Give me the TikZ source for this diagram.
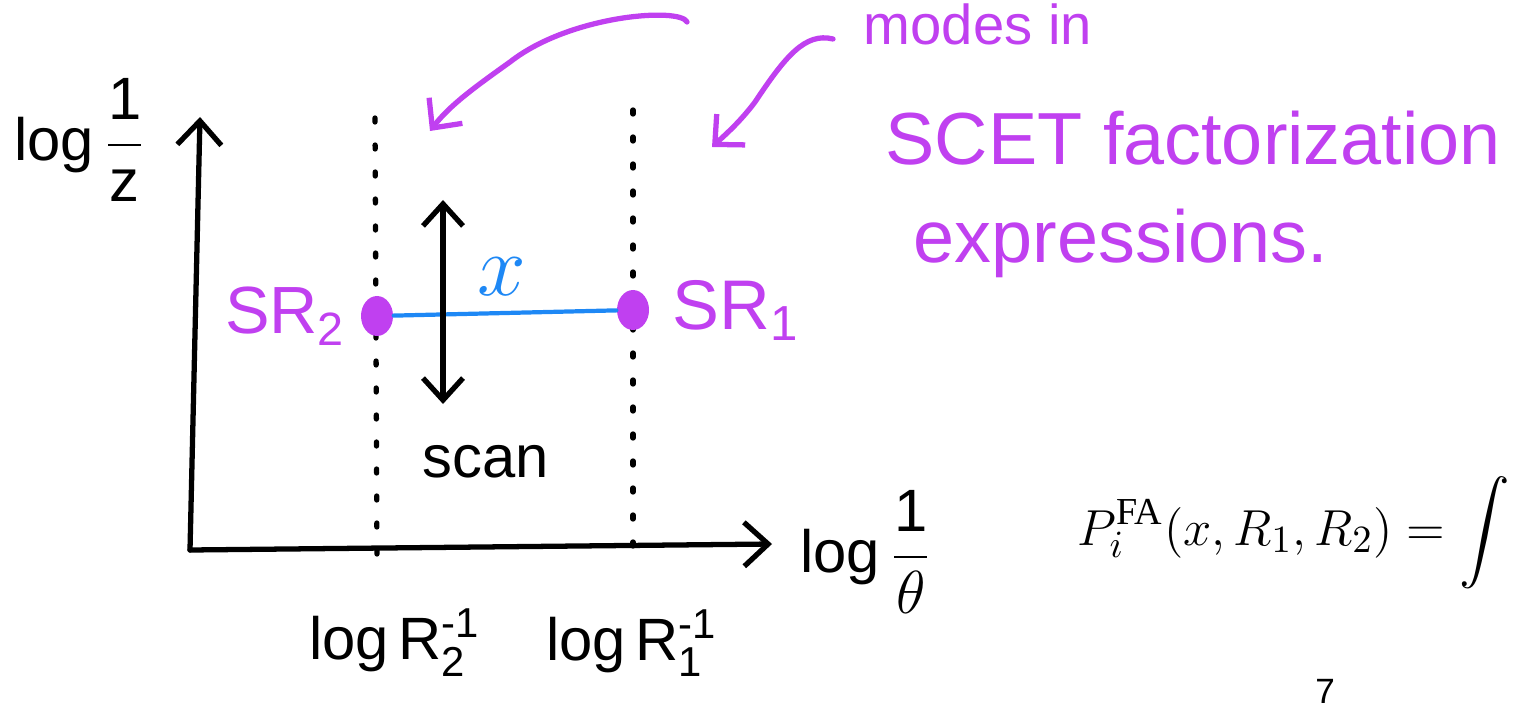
\documentclass[tikz,border=0pt]{standalone}
\usepackage{amsmath}
\usepackage{fontspec}
\setmainfont{Liberation Sans}
\newfontfamily\slideSerif{Liberation Serif}
\usetikzlibrary{positioning, arrows.meta, shapes.geometric}
\definecolor{inkPurple}{RGB}{192,64,240}
\definecolor{inkBlue}{RGB}{30,136,245}
\tikzset{
    ink/.style={
        line width=1.5pt,
        line cap=round,
        line join=round
    },
    barb/.style={
        -{Straight Barb[length=2.4mm, width=4.4mm]}
    },
    guide/.style={
        ink,
        dash pattern=on 0.4mm off 2.3mm
    },
    blob/.style={
        ellipse,
        fill=inkPurple,
        minimum width=0.32cm,
        minimum height=0.40cm,
        inner sep=0pt
    },
    hand/.style={
        inner sep=0pt,
        font=\fontsize{#1}{#1}\selectfont
    },
    hand/.default=21
}

\begin{document}
\begin{tikzpicture}
            \useasboundingbox (0,0) rectangle (15.31,7.07);
            % Help lines :
            %\draw [help lines] (0,0) grid (15,7);

            % Axes
            \coordinate (origin) at (1.90,1.57);
            \coordinate (yTop) at (2.00,5.90);
            \coordinate (xEnd) at (7.72,1.63);
            \draw [ink, barb] (origin) -- (yTop);
            \draw [ink, barb] (origin) -- (xEnd);

            \node (yLabel) [hand=17] at (0.80,5.67) {log\,$\dfrac{\text{1}}{\text{z}}$};
            \node (xLabel) [hand=17] at (8.66,1.55) {log\,$\dfrac{\text{1}}{\theta}$};

            % Cut lines
            \coordinate (cutTwoTop) at (3.75,5.89);
            \coordinate (cutTwoBot) at (3.77,1.47);
            \coordinate (cutOneTop) at (6.33,5.97);
            \coordinate (cutOneBot) at (6.33,1.52);
            \draw [guide] (cutTwoTop) -- (cutTwoBot);
            \draw [guide] (cutOneTop) -- (cutOneBot);

            \node (tickTwo) [hand=17] at (3.95,0.64) {log\,R$_{\text{2}}^{\text{-1}}$};
            \node (tickOne) [hand=17] at (6.32,0.64) {log\,R$_{\text{1}}^{\text{-1}}$};

            % Subjet radii
            \node (sr2) [blob] at (3.77,3.91) {};
            \node (sr1) [blob] at (6.33,3.97) {};
            \node (sr2Label) [hand=19, text=inkPurple, left = 0.14cm of sr2] {SR$_{\text{2}}$};
            \node (sr1Label) [hand=20, text=inkPurple, right = 0.22cm of sr1] {SR$_{\text{1}}$};

            \draw [ink, inkBlue, line width=1.2pt] (sr2) -- (sr1);
            \node (xVar) [hand=33, text=inkBlue] at (5.02,4.30) {$x$};

            % Scan
            \coordinate (scanTop) at (4.43,5.07);
            \coordinate (scanBot) at (4.43,3.03);
            \draw [ink, {Straight Barb[length=2.2mm, width=4mm]}-{Straight Barb[length=2.2mm, width=4mm]}]
                (scanTop) -- (scanBot);
            \node (scan) [hand=17] at (4.86,2.45) {scan};

            % Notes
            \node (modes) [hand=16, text=inkPurple, anchor=base west] at (8.63,6.62) {modes in};
            \node (scet) [hand, text=inkPurple, anchor=base west] at (8.85,5.42) {SCET factorization};
            \node (expr) [hand, text=inkPurple, anchor=base west] at (9.13,4.44) {expressions.};

            \coordinate (noteA) at (6.87,6.85);
            \coordinate (tipA) at (4.30,5.76);
            \coordinate (noteB) at (8.33,6.68);
            \coordinate (tipB) at (7.12,5.60);
            \draw [ink, inkPurple, -{Straight Barb[length=2.2mm, width=4.2mm]}]
                (noteA) .. controls (6.80,7.00) and (5.70,6.92) .. (5.10,6.45)
                .. controls (4.75,6.20) and (4.50,6.02) .. (tipA);
            \draw [ink, inkPurple, -{Straight Barb[length=2.2mm, width=4.2mm]}]
                (noteB) .. controls (8.05,6.75) and (7.85,6.50) .. (7.55,6.05)
                .. controls (7.40,5.85) and (7.25,5.72) .. (tipB);

            % Slide
            \node (formula) [hand=15.5, anchor=base west] at (10.77,1.62)
                {$\displaystyle P_i^{\text{\slideSerif FA}}(x,R_1,R_2)=\int$};
            \node (page) [hand=10, anchor=north] at (13.25,0.28) {7};
        \end{tikzpicture}
\end{document}
